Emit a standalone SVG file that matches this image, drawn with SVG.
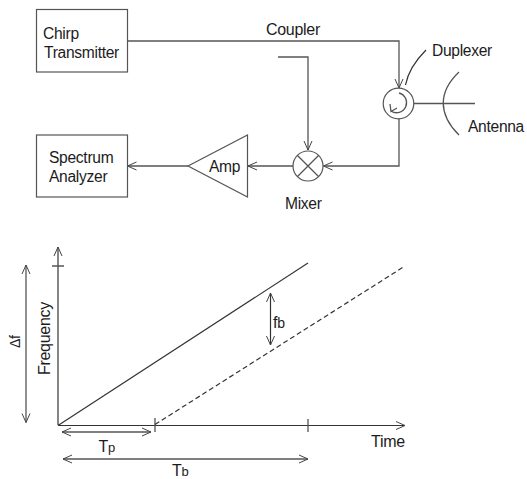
<svg xmlns="http://www.w3.org/2000/svg" width="527" height="479" viewBox="0 0 527 479">
<defs>
<marker id="a" markerWidth="12" markerHeight="10" refX="10" refY="5" orient="auto-start-reverse" markerUnits="userSpaceOnUse"><path d="M1 1 L10 5 L1 9" fill="none" stroke="#444" stroke-width="1"/></marker>
</defs>
<style>
text{font-family:"Liberation Sans",Arial,sans-serif;font-size:15.6px;fill:#1c1c1c;letter-spacing:-.3px}
.s{fill:#fff;stroke:#555;stroke-width:1.2}
.l{fill:none;stroke:#555;stroke-width:1.3}
.k{fill:none;stroke:#333;stroke-width:1.2}
.ar{marker-end:url(#a)}
.both{marker-start:url(#a);marker-end:url(#a)}
</style>
<rect width="527" height="479" fill="#fff"/>
<g id="connectors">
<path class="l ar" d="M127.500 41H399V88"/>
<path class="l ar" d="M278 57H308V150"/>
<path class="l ar" d="M399 118.500V166H323.500"/>
<path class="l ar" d="M293 166H248"/>
<path class="l ar" d="M188 166H127.500"/>
<path class="l" d="M414 103.500H475"/>
<path class="k" d="M405.500 85C408 72 416 60 426 50"/>
</g>
<g id="chirp-transmitter"><rect class="s" x="36.500" y="9.500" width="91" height="62.500"/><text x="43" y="39">Chirp</text><text x="44" y="58">Transmitter</text></g>
<g id="spectrum-analyzer"><rect class="s" x="36.500" y="135" width="91" height="62"/><text x="49" y="163">Spectrum</text><text x="49" y="182">Analyzer</text></g>
<g id="amp"><path class="s" d="M188 166L247.500 135V197Z"/><text x="209" y="171.500">Amp</text></g>
<g id="mixer"><circle class="s" cx="308" cy="166" r="15"/><path class="l" d="M297.500 155.500L318.500 176.500M318.500 155.500L297.500 176.500"/><text x="285" y="209">Mixer</text></g>
<g id="duplexer"><circle class="s" cx="398.500" cy="103.500" r="15.300"/><path class="l" d="M399 93A10 10 0 1 1 391 111"/><path class="l" d="M390 104L391 111.500L397 108"/><text x="432" y="55.500">Duplexer</text></g>
<g id="antenna"><path class="l" d="M459 72C438 92 438 114 459 135"/><text x="468" y="131.500">Antenna</text></g>
<g id="coupler"><text x="266" y="35" style="font-size:16px">Coupler</text></g>
<g id="chart">
<path class="k ar" d="M58 425V247"/>
<path class="k ar" d="M58 425.500H405"/>
<path class="l" d="M52 266H64M155 418V432M308 419V432"/>
<path class="k" d="M58 425.500L308 263"/>
<path class="k" stroke-dasharray="5 3" d="M155 424.500L405 266"/>
<path class="l both" d="M26 265V422.500"/>
<path class="l both" d="M62 432H151"/>
<path class="l both" d="M63 459H308"/>
<path class="k both" d="M270.500 293V345"/>
<text transform="translate(50 375) rotate(-90)" style="font-size:16px">Frequency</text>
<text transform="translate(20 348) rotate(-90)" style="font-size:14px">Δf</text>
<text x="98.500" y="452" style="font-size:16px">T<tspan font-size="13">p</tspan></text>
<text x="172" y="476" style="font-size:16px">T<tspan font-size="13">b</tspan></text>
<text x="273" y="328" style="font-size:16px">f<tspan font-size="14">b</tspan></text>
<text x="371" y="447" style="font-size:16px">Time</text>
</g>
</svg>
